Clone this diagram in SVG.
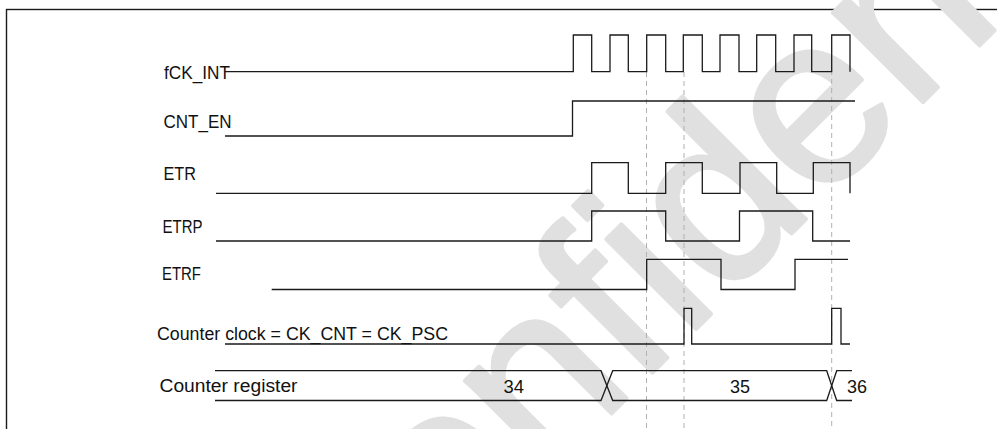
<svg xmlns="http://www.w3.org/2000/svg" width="997" height="429" viewBox="0 0 997 429">
  <style>
    .frame { fill: #ffffff; stroke: #1a1a1a; stroke-width: 1.4; }
    .wave { fill: none; stroke: #1a1a1a; stroke-width: 1.3; stroke-linejoin: miter; }
    .guide { fill: none; stroke: #b0b0b0; stroke-width: 1; stroke-dasharray: 5 4; }
    .lbl { font-family: "Liberation Sans", Arial, sans-serif; font-size: 17.5px; fill: #111111; }
    .wm { font-family: "Liberation Sans", Arial, sans-serif; font-size: 240px; fill: #e0e0e0; stroke: #e0e0e0; stroke-width: 4; stroke-linejoin: round; }
  </style>
  <rect class="frame" x="6.5" y="9.5" width="1000" height="500"/>
  <g id="watermark">
    <text class="wm" x="0" y="0" transform="translate(364 661) rotate(-45)">confidential</text>
  </g>
  <g id="connectors">
    <line class="guide" x1="646.5" y1="72" x2="646.5" y2="429"/>
    <line class="guide" x1="684" y1="72" x2="684" y2="429"/>
    <line class="guide" x1="831.7" y1="70" x2="831.7" y2="429"/>
  </g>
  <g id="sig-fck-int">
    <text class="lbl" x="164" y="79" textLength="66" lengthAdjust="spacingAndGlyphs">fCK_INT</text>
    <path class="wave" d="M225,71.7 H573.3 V35 H591.7 V71.7 H610 V35 H628.3 V71.7 H646.7 V35 H665.7 V71.7 H683.3 V35 H702.3 V71.7 H720 V35 H739 V71.7 H756.7 V35 H775.7 V71.7 H794 V35 H811.7 V71.7 H831.7 V35 H850 V71.7"/>
  </g>
  <g id="sig-cnt-en">
    <text class="lbl" x="163.5" y="127.5" textLength="68" lengthAdjust="spacingAndGlyphs">CNT_EN</text>
    <path class="wave" d="M225,136 H572.5 V101 H855"/>
  </g>
  <g id="sig-etr">
    <text class="lbl" x="163.5" y="180" textLength="32.5" lengthAdjust="spacingAndGlyphs">ETR</text>
    <path class="wave" d="M216,193.3 H591.7 V162.7 H628.3 V193.3 H665.7 V162.7 H702.3 V193.3 H740 V162.7 H776.7 V193.3 H813.3 V162.7 H850 V193.3"/>
  </g>
  <g id="sig-etrp">
    <text class="lbl" x="162.5" y="232.7" textLength="40" lengthAdjust="spacingAndGlyphs">ETRP</text>
    <path class="wave" d="M216,241 H591.7 V211 H665.7 V241 H739.5 V211 H812.7 V241 H850"/>
  </g>
  <g id="sig-etrf">
    <text class="lbl" x="162" y="280" textLength="39" lengthAdjust="spacingAndGlyphs">ETRF</text>
    <path class="wave" d="M271.7,289.5 H646.7 V259.3 H721 V289.5 H795 V259.3 H848"/>
  </g>
  <g id="sig-counter-clock">
    <text class="lbl" x="157" y="339.5" textLength="291" lengthAdjust="spacingAndGlyphs">Counter clock = CK_CNT = CK_PSC</text>
    <path class="wave" d="M225,344 H684 V308.3 H691.7 V344 H831.7 V308.3 H841 V344 H850"/>
  </g>
  <g id="sig-counter-register">
    <text class="lbl" x="159.5" y="391.5" textLength="138" lengthAdjust="spacingAndGlyphs">Counter register</text>
    <path class="wave" d="M215,370.7 H601 L612.7,400.5 H826.7 L836.7,370.7 H852"/>
    <path class="wave" d="M215,400.5 H601 L612.7,370.7 H826.7 L836.7,400.5 H852"/>
    <text class="lbl" x="503.5" y="393" textLength="20.5" lengthAdjust="spacingAndGlyphs">34</text>
    <text class="lbl" x="730" y="393" textLength="20" lengthAdjust="spacingAndGlyphs">35</text>
    <text class="lbl" x="847" y="393" textLength="20" lengthAdjust="spacingAndGlyphs">36</text>
  </g>
</svg>
